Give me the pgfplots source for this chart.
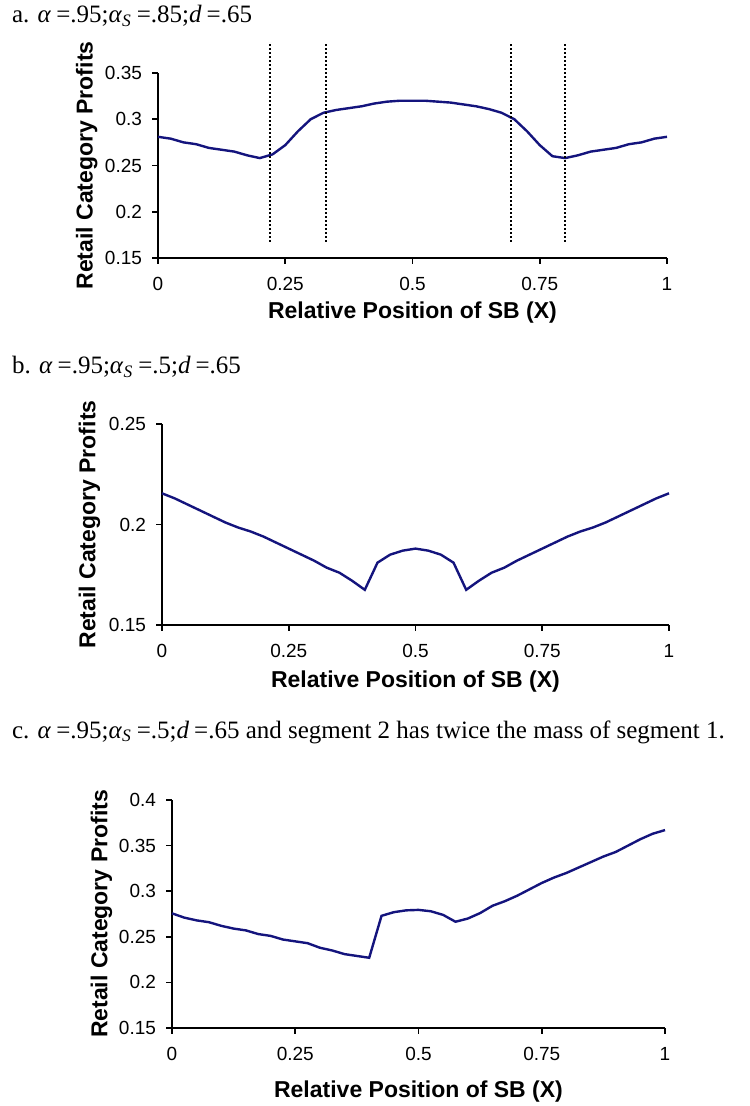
\documentclass[border=0pt]{standalone}
\usepackage{fontspec}
\setmainfont{Liberation Serif}
\setsansfont{Liberation Sans}
\usepackage{pgfplots}
\pgfplotsset{compat=1.18}

\definecolor{curve}{RGB}{20,20,125}

\pgfplotstableread{
x y
0 0.281
0.025 0.279
0.05 0.275
0.075 0.273
0.1 0.269
0.125 0.267
0.15 0.265
0.175 0.261
0.2 0.258
0.225 0.262
0.25 0.272
0.275 0.287
0.3 0.300
0.325 0.307
0.35 0.310
0.375 0.312
0.4 0.314
0.425 0.317
0.45 0.319
0.475 0.320
0.5 0.320
0.525 0.320
0.55 0.319
0.575 0.318
0.6 0.316
0.625 0.314
0.65 0.311
0.675 0.307
0.7 0.300
0.725 0.287
0.75 0.272
0.775 0.260
0.8 0.258
0.825 0.261
0.85 0.265
0.875 0.267
0.9 0.269
0.925 0.273
0.95 0.275
0.975 0.279
1 0.281
}\panela

\pgfplotstableread{
x y
0 0.2155
0.025 0.213
0.05 0.210
0.075 0.207
0.1 0.204
0.125 0.201
0.15 0.1985
0.175 0.1965
0.2 0.194
0.225 0.191
0.25 0.188
0.275 0.185
0.3 0.182
0.325 0.1785
0.35 0.176
0.375 0.172
0.4 0.1675
0.425 0.181
0.45 0.185
0.475 0.187
0.5 0.188
0.525 0.187
0.55 0.185
0.575 0.181
0.6 0.1675
0.625 0.172
0.65 0.176
0.675 0.1785
0.7 0.182
0.725 0.185
0.75 0.188
0.775 0.191
0.8 0.194
0.825 0.1965
0.85 0.1985
0.875 0.201
0.9 0.204
0.925 0.207
0.95 0.210
0.975 0.213
1 0.2155
}\panelb

\pgfplotstableread{
x y
0 0.2757
0.025 0.271
0.05 0.268
0.075 0.266
0.1 0.262
0.125 0.259
0.15 0.257
0.175 0.253
0.2 0.251
0.225 0.247
0.25 0.245
0.275 0.243
0.3 0.238
0.325 0.235
0.35 0.231
0.375 0.229
0.4 0.227
0.425 0.273
0.45 0.277
0.475 0.279
0.5 0.2795
0.525 0.278
0.55 0.274
0.575 0.2665
0.6 0.270
0.625 0.276
0.65 0.284
0.675 0.289
0.7 0.295
0.725 0.302
0.75 0.309
0.775 0.315
0.8 0.320
0.825 0.326
0.85 0.332
0.875 0.338
0.9 0.343
0.925 0.350
0.95 0.357
0.975 0.363
1 0.367
}\panelc

% common look of the three Excel-style panels
\pgfplotsset{
  excel/.style={
    scale only axis,
    anchor=south west,
    axis lines=left,
    axis line style={line width=1pt,-},
    tick align=outside,
    major tick length=3pt,
    tick style={line width=0.8pt,black},
    xmin=0, xmax=1,
    xtick={0,0.25,0.5,0.75,1},
    /pgf/number format/assume math mode=true,
    tick label style={font=\fontsize{9.5}{11}\selectfont\sffamily},
    xticklabel style={yshift=-3pt},
    yticklabel style={xshift=-1.5pt},
    label style={font=\fontsize{11.5}{13}\selectfont\sffamily\bfseries},
    xlabel={Relative Position of SB (X)},
    ylabel={Retail Category Profits},
    clip=false,
  },
  curve/.style={color=curve, line width=1.2pt, no marks},
  vline/.style={black, line width=1pt, dash pattern=on 1pt off 1pt, no marks},
}

\newcommand{\eq}{\hspace{0.2em}=}

\begin{document}
\begin{tikzpicture}
\path[use as bounding box] (0,0) rectangle (374.5pt,553pt);

% panel a
\node[anchor=west, font=\fontsize{12.5}{15}\selectfont] at (2.5pt,545pt)
  {a. \textit{α}\eq.95;\textit{α}\textsubscript{\textit{S}}\eq.85;\textit{d}\eq.65};
\begin{axis}[excel,
    at={(79pt,424pt)}, width=254.5pt, height=92.5pt,
    ymin=0.15, ymax=0.35, ytick={0.15,0.2,0.25,0.3,0.35},
    xlabel style={at={(axis description cs:0.5,0)}, anchor=center, yshift=-27.5pt},
    ylabel style={at={(axis description cs:-0.14,0.5)}, anchor=center},
]
\addplot[curve] table {\panela};
\addplot[vline] coordinates {(0.221,0.1676) (0.221,0.382)};
\addplot[vline] coordinates {(0.330,0.1676) (0.330,0.382)};
\addplot[vline] coordinates {(0.693,0.1676) (0.693,0.382)};
\addplot[vline] coordinates {(0.800,0.1676) (0.800,0.382)};
\end{axis}

% panel b
\node[anchor=west, font=\fontsize{12.5}{15}\selectfont] at (2.5pt,369.5pt)
  {b. \textit{α}\eq.95;\textit{α}\textsubscript{\textit{S}}\eq.5;\textit{d}\eq.65};
\begin{axis}[excel,
    at={(81pt,240.5pt)}, width=253.5pt, height=100.5pt,
    ymin=0.15, ymax=0.25, ytick={0.15,0.2,0.25},
    xlabel style={at={(axis description cs:0.5,0)}, anchor=center, yshift=-28.5pt},
    ylabel style={at={(axis description cs:-0.143,0.5)}, anchor=center},
]
\addplot[curve] table {\panelb};
\end{axis}

% panel c
\node[anchor=west, font=\fontsize{12.5}{15}\selectfont] at (2.5pt,187pt)
  {c. \textit{α}\eq.95;\textit{α}\textsubscript{\textit{S}}\eq.5;\textit{d}\eq.65 and segment 2 has twice the mass of segment 1.};
\begin{axis}[excel,
    at={(86pt,39pt)}, width=246.5pt, height=114pt,
    ymin=0.15, ymax=0.4, ytick={0.15,0.2,0.25,0.3,0.35,0.4},
    xlabel style={at={(axis description cs:0.5,0)}, anchor=center, yshift=-32pt},
    ylabel style={at={(axis description cs:-0.143,0.5)}, anchor=center},
]
\addplot[curve] table {\panelc};
\end{axis}
\end{tikzpicture}
\end{document}
